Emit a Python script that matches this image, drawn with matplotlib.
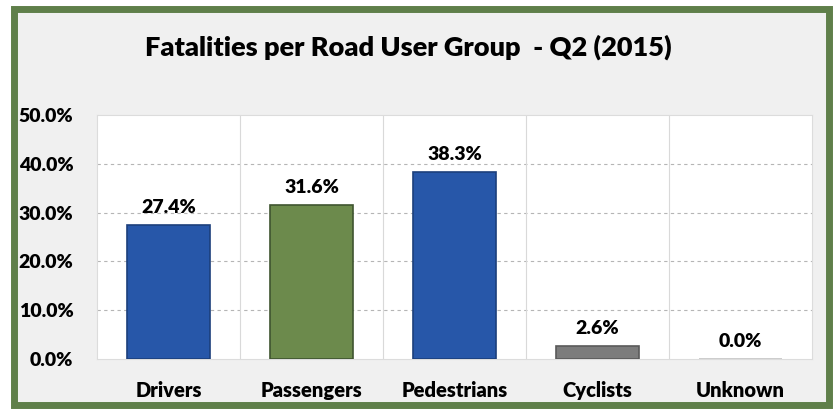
import matplotlib.pyplot as plt
from matplotlib import patches
from matplotlib.ticker import FuncFormatter

categories = ['Drivers', 'Passengers', 'Pedestrians', 'Cyclists', 'Unknown']
shares = [27.4, 31.6, 38.3, 2.6, 0.0]
bar_colors = ['#2757a9', '#6c8a4c', '#2757a9', '#7c7c7c', '#d8d8d8']
edge_colors = ['#1c3f7c', '#3f5530', '#1c3f7c', '#5a5a5a', '#c4c4c4']
yticks = [0, 10, 20, 30, 40, 50]
title = 'Fatalities per Road User Group  - Q2 (2015)'

plt.rcParams['font.family'] = ['Lato', 'DejaVu Sans']
plt.rcParams['font.weight'] = 'heavy'

fig = plt.figure(figsize=(8.35, 4.11), dpi=100)
fig.patch.set_facecolor('white')

# grey panel with green frame
frame = patches.Rectangle((14/835, 6/411), 815/835, 396/411, transform=fig.transFigure,
                          facecolor='#f0f0f0', edgecolor='#5f7f4a', lw=5, zorder=-5)
fig.patches.append(frame)

ax = fig.add_axes([97/835, 52/411, 715/835, 244/411])
ax.set_zorder(2)
ax.set_facecolor('white')

x = range(len(categories))
bars = ax.bar(x, shares, width=0.58, color=bar_colors, edgecolor=edge_colors, lw=1.2, zorder=3)

for i, v in enumerate(shares):
    ax.text(i, v + 1.9, f'{v:.1f}%', ha='center', va='bottom', fontsize=14, fontweight='heavy', zorder=4)

ax.set_xlim(-0.5, len(categories) - 0.5)
ax.set_ylim(0, 50)
ax.set_yticks(yticks)
ax.yaxis.set_major_formatter(FuncFormatter(lambda v, p: f'{v:.1f}%'))
ax.set_xticks(list(x))
ax.set_xticklabels(categories)
ax.tick_params(axis='y', length=0, pad=17, labelsize=14)
ax.tick_params(axis='x', length=0, pad=16, labelsize=14.5)

# horizontal dashed grid, vertical category separators
for v in yticks[1:-1]:
    ax.axhline(v, color='#b5b5b5', lw=0.8, ls=(0, (3, 3)), zorder=1)
for b in range(1, len(categories)):
    ax.axvline(b - 0.5, color='#d9d9d9', lw=0.8, zorder=1)

for s in ax.spines.values():
    s.set_color('#dcdcdc')
    s.set_linewidth(0.8)

fig.text(408/835, 1 - 47/411, title, ha='center', va='center', fontsize=19.5, fontweight='heavy')

fig.savefig('out.png', dpi=100)
